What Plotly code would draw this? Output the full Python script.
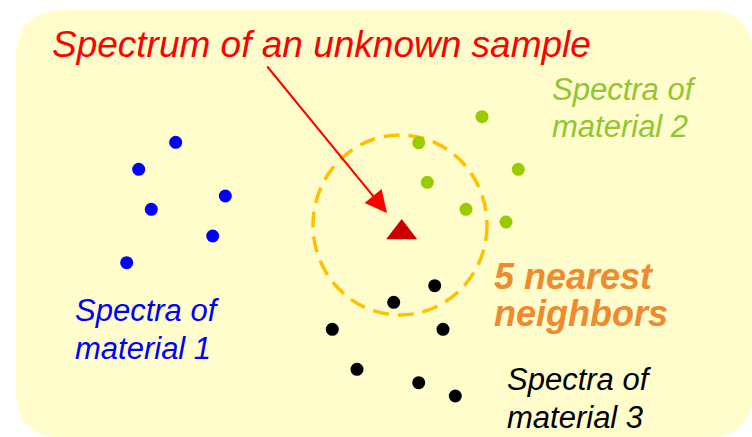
import plotly.graph_objects as go

# ---- data (pixel-space coordinates of the diagram, y grows downward) ----
mat1_x = [175.7, 138.7, 225.3, 151.3, 212.7, 126.7]
mat1_y = [142.3, 169.3, 196.0, 209.3, 236.0, 262.7]

mat2_x = [482.0, 418.7, 518.3, 427.3, 466.0, 506.0]
mat2_y = [116.7, 142.7, 169.3, 182.3, 209.3, 222.0]

mat3_x = [434.7, 393.7, 332.3, 443.0, 357.0, 418.7, 455.3]
mat3_y = [285.7, 302.3, 329.3, 329.3, 369.3, 382.7, 396.0]

unknown_x = [401.7]
unknown_y = [232.5]

neigh_center = (400.0, 225.0)
neigh_radius = (87.0, 90.0)

title_text = "Spectrum of an unknown sample"
label1 = ["Spectra of", "material 1"]
label2 = ["Spectra of", "material 2"]
label3 = ["Spectra of", "material 3"]
label_nn = ["5 nearest", "neighbors"]

W, H = 752, 437
FONT = "Liberation Sans, Arial, sans-serif"

fig = go.Figure()

# background rounded panel
x0, y0, x1, y1, r = 16, 10, 753, 438, 48
panel = (f"M{x0+r},{y0} L{x1-r},{y0} Q{x1},{y0} {x1},{y0+r} "
         f"L{x1},{y1-r} Q{x1},{y1} {x1-r},{y1} L{x0+r},{y1} "
         f"Q{x0},{y1} {x0},{y1-r} L{x0},{y0+r} Q{x0},{y0} {x0+r},{y0} Z")
fig.add_shape(type="path", path=panel, xref="x", yref="y",
              fillcolor="#FFFDCC", line=dict(width=0), layer="below")

# dashed neighbourhood circle
cx, cy = neigh_center
rx, ry = neigh_radius
fig.add_shape(type="circle", xref="x", yref="y",
              x0=cx - rx, x1=cx + rx, y0=cy - ry, y1=cy + ry,
              line=dict(color="#FFC000", width=3.5, dash="16px,9px"),
              fillcolor="rgba(0,0,0,0)", layer="below")

dot = dict(size=13, line=dict(width=0))
fig.add_trace(go.Scatter(x=mat1_x, y=mat1_y, mode="markers",
                         marker=dict(color="#0000FF", **dot), hoverinfo="skip"))
fig.add_trace(go.Scatter(x=mat2_x, y=mat2_y, mode="markers",
                         marker=dict(color="#99CC00", **dot), hoverinfo="skip"))
fig.add_trace(go.Scatter(x=mat3_x, y=mat3_y, mode="markers",
                         marker=dict(color="#000000", **dot), hoverinfo="skip"))
fig.add_trace(go.Scatter(x=unknown_x, y=unknown_y, mode="markers",
                         marker=dict(color="#CC0000", size=27, symbol="triangle-up",
                                     line=dict(width=0)), hoverinfo="skip"))

# arrow
fig.add_annotation(x=387, y=213, ax=266, ay=65, xref="x", yref="y",
                   axref="x", ayref="y", text="", showarrow=True,
                   arrowhead=2, arrowsize=2.2, arrowwidth=2,
                   arrowcolor="#FF0000", standoff=0, startstandoff=0)

def line_text(txt, x, baseline, size, color, anchor="left", bold=False):
    fig.add_annotation(x=x, y=baseline - 0.35 * size, xref="x", yref="y",
                       text=txt, showarrow=False, xanchor=anchor, yanchor="middle",
                       font=dict(family=FONT, size=size, color=color,
                                 style="italic", weight="bold" if bold else "normal"))

line_text(title_text, 321, 57.3, 37, "#FF0000", anchor="center")
for i, t in enumerate(label2):
    line_text(t, 550, [100, 137][i], 31, "#92C630")
for i, t in enumerate(label1):
    line_text(t, 73, [321, 359][i], 31, "#0000FF")
for i, t in enumerate(label3):
    line_text(t, 505, [390.7, 428][i], 31, "#000000")
for i, t in enumerate(label_nn):
    line_text(t, 492, [289.3, 326][i], 36, "#F08A2E", bold=True)

fig.update_layout(
    width=W, height=H, autosize=False,
    margin=dict(l=0, r=0, t=0, b=0),
    paper_bgcolor="#FFFFFF", plot_bgcolor="rgba(0,0,0,0)",
    showlegend=False,
    xaxis=dict(range=[0, W], visible=False, fixedrange=True),
    yaxis=dict(range=[H, 0], visible=False, fixedrange=True),
)

fig.write_html("out.html", config={"displayModeBar": False},
               post_script="document.body.style.margin='0';document.body.style.overflow='hidden';")
